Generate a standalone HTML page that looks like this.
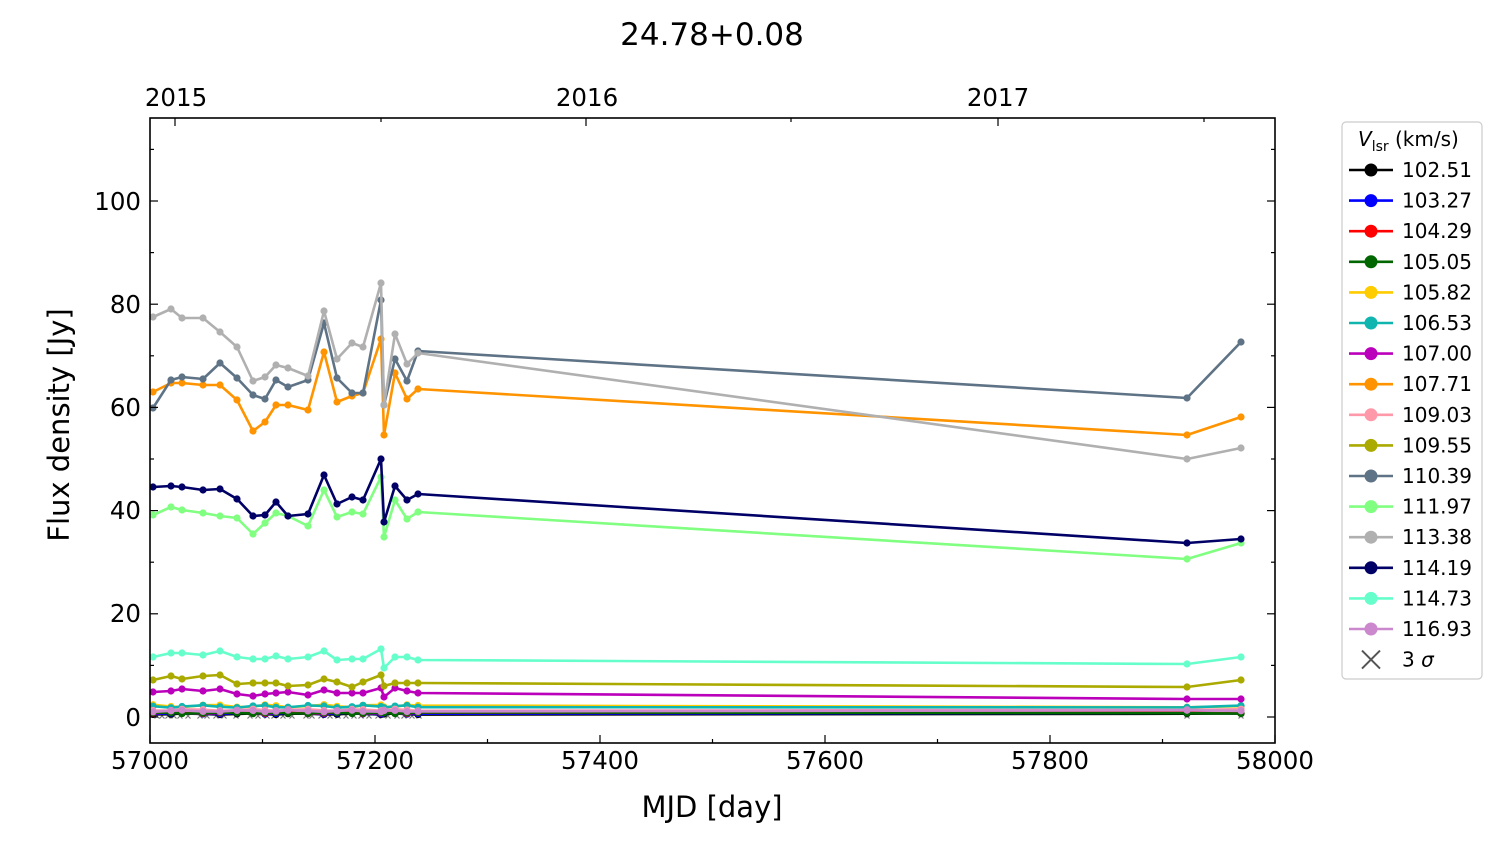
<!DOCTYPE html>
<html><head><meta charset="utf-8"><style>
html,body{margin:0;padding:0;background:#fff;}
svg{display:block;font-family:"DejaVu Sans","Liberation Sans",sans-serif;}
</style></head><body>
<svg id="s" width="1500" height="844" viewBox="0 0 1500 844" xmlns="http://www.w3.org/2000/svg">
<rect width="1500" height="844" fill="#fff"/>
<text x="712" y="45" font-size="31" text-anchor="middle">24.78+0.08</text>
<g id="plot"></g>
<rect x="150" y="118" width="1125" height="625" fill="none" stroke="#000" stroke-width="1.6"/>
<g font-size="24.5" text-anchor="middle">
<text x="150" y="769">57000</text><text x="375" y="769">57200</text><text x="600" y="769">57400</text>
<text x="825" y="769">57600</text><text x="1050" y="769">57800</text>
<text x="1275" y="769">58000</text>
<text x="176" y="106">2015</text><text x="587" y="106">2016</text><text x="998" y="106">2017</text>
</g>
<g font-size="24.5" text-anchor="end">
<text x="141" y="726">0</text><text x="141" y="622">20</text><text x="141" y="519">40</text>
<text x="141" y="416">60</text><text x="141" y="313">80</text><text x="141" y="210">100</text>
</g>
<text x="712" y="817" font-size="29" text-anchor="middle">MJD [day]</text>
<text transform="translate(69,425) rotate(-90)" font-size="29" text-anchor="middle">Flux density [Jy]</text>
<g id="ticks" stroke="#000" stroke-width="1.2"></g>
<rect x="1342" y="122" width="140" height="557" rx="4" fill="#fff" stroke="#ccc" stroke-width="1.2"/>
<text x="1358" y="146" font-size="20"><tspan font-style="italic">V</tspan><tspan font-size="14" dy="5">lsr</tspan><tspan dy="-5"> (km/s)</tspan></text>
<g id="leg" font-size="20"></g>
</svg>
<script>
const NS="http://www.w3.org/2000/svg";
function el(p,t,a,txt){const e=document.createElementNS(NS,t);for(const k in a)e.setAttribute(k,a[k]);if(txt!=null)e.textContent=txt;p.appendChild(e);return e;}
const tk=document.getElementById('ticks');
for(let v=57000;v<=58000;v+=100){const x=150+(v-57000)*1.125;const L=(v%200==0)?8:4;
 el(tk,'line',{x1:x,x2:x,y1:743,y2:743-L});}
[[175,8],[381,4],[586,8],[791,4],[998,8],[1204,4]].forEach(([x,L])=>el(tk,'line',{x1:x,x2:x,y1:118,y2:118+L}));
for(let v=0;v<=110;v+=10){const y=717-v*5.16;const L=(v%20==0)?8:4;
 el(tk,'line',{x1:150,x2:150+L,y1:y,y2:y});el(tk,'line',{x1:1275,x2:1275-L,y1:y,y2:y});}
const X=[153,171,182,203,220,237,253,265,276,288,308,324,337,352,363,381,384,395,407,418,1187,1241];
const S={
gray:["#b0b0b0",[317,309,318,318,332,347,381,377,365,368,376,311,359,343,347,283,405,334,364,353,459,448]],
slate:["#5f7386",[408,380,377,379,363,378,395,399,380,387,380,323,378,393,393,300,405,359,381,351,398,342]],
orange:["#ff9400",[392,383,383,385,385,400,431,422,405,405,410,352,402,396,393,339,435,373,399,389,435,417]],
navy:["#000066",[487,486,487,490,489,499,516,515,502,516,514,475,504,497,500,459,522,486,500,494,543,539]],
green:["#80ff80",[515,507,510,513,516,518,534,523,513,516,526,490,517,512,514,477,537,500,519,512,559,543]],
aqua:["#66ffcc",[657,653,653,655,651,657,659,659,656,659,657,651,660,659,659,649,668,657,657,660,664,657]],
olive:["#aaaa00",[680,676,679,676,675,684,683,683,683,686,685,679,682,687,682,675,686,683,683,683,687,680]],
mag:["#bb00bb",[692,691,689,691,689,694,696,694,693,692,695,690,693,693,693,688,697,688,691,693,699,699]]
};
function flat(b,amp,seed){return X.map((x,i)=>b+amp*Math.sin(i*1.7+seed));}
const low=[["#000000",flat(714,0.6,1)],["#0000ff",flat(713.5,0.6,2)],["#ff0000",flat(713,0.6,3)],["#006600",flat(713,0.6,4)],
["#ffcc00",flat(706,1.3,5)],["#11b5b0",flat(706.5,1.2,6)],["#ff99aa",flat(710,0.8,7)],["#cc88cc",flat(711,0.8,8)]];
const P=document.getElementById('plot');
[157,162,168,174,180,188,200,207,216,224,236,250,258,267,274,283,292,306,312,321,330,338,346,354,361,369,378,388,397,404,412,419,1187,1241].forEach(x=>{
 el(P,'path',{d:`M${x-2.5},${713.5}l5,5M${x+2.5},${713.5}l-5,5`,stroke:"#777",'stroke-width':1.2});});
function series(c,ys){el(P,'polyline',{points:X.map((x,i)=>x+','+ys[i]).join(' '),fill:'none',stroke:c,'stroke-width':2.6,'stroke-linejoin':'round'});
 X.forEach((x,i)=>el(P,'circle',{cx:x,cy:ys[i],r:3.6,fill:c}));}
low.forEach(([c,y])=>series(c,y));
["mag","olive","aqua","green","navy","orange","slate","gray"].forEach(k=>series(S[k][0],S[k][1]));
const leg=[["102.51","#000000"],["103.27","#0000ff"],["104.29","#ff0000"],["105.05","#006600"],["105.82","#ffcc00"],["106.53","#11b5b0"],["107.00","#bb00bb"],["107.71","#ff9400"],["109.03","#ff99aa"],["109.55","#aaaa00"],["110.39","#5f7386"],["111.97","#80ff80"],["113.38","#b0b0b0"],["114.19","#000066"],["114.73","#66ffcc"],["116.93","#cc88cc"]];
const G=document.getElementById('leg');
leg.forEach(([t,c],i)=>{const y=170+i*30.6;
 el(G,'line',{x1:1349,x2:1393,y1:y,y2:y,stroke:c,'stroke-width':2.6});
 el(G,'circle',{cx:1371,cy:y,r:6.5,fill:c});
 el(G,'text',{x:1402,y:y+7},t);});
const y3=170+16*30.6;
el(G,'path',{d:`M1362,${y3-9}l18,18M1380,${y3-9}l-18,18`,stroke:"#555",'stroke-width':2});
const t3=el(G,'text',{x:1402,y:y3+7},"3 ");el(t3,'tspan',{'font-style':'italic'},"σ");
</script>
</body></html>
